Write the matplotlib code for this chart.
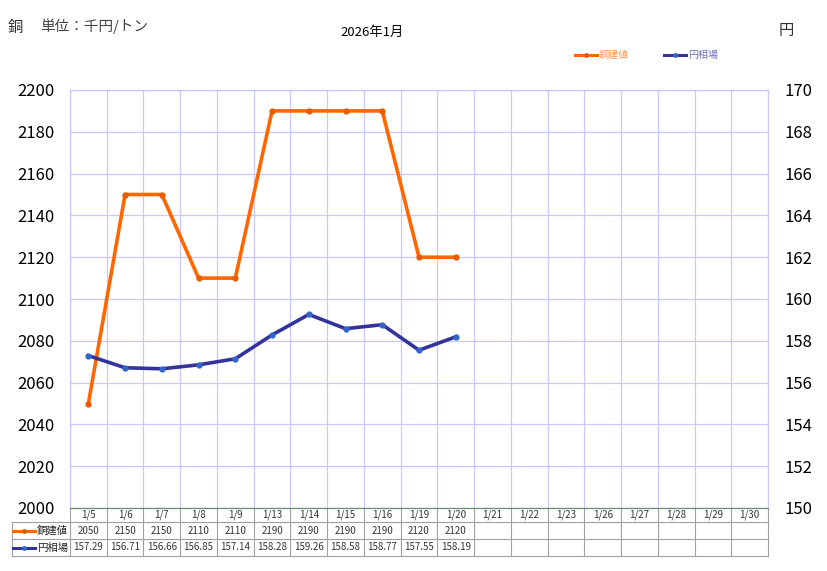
import matplotlib.pyplot as plt

plt.rcParams['font.family'] = ['Noto Sans CJK JP', 'DejaVu Sans']

dates = ['1/5', '1/6', '1/7', '1/8', '1/9', '1/13', '1/14', '1/15', '1/16', '1/19',
         '1/20', '1/21', '1/22', '1/23', '1/26', '1/27', '1/28', '1/29', '1/30']
copper = [2050, 2150, 2150, 2110, 2110, 2190, 2190, 2190, 2190, 2120, 2120]
yen = [157.29, 156.71, 156.66, 156.85, 157.14, 158.28, 159.26, 158.58, 158.77, 157.55, 158.19]

orange = '#FF6600'
navy = '#333399'
grid_c = '#C8C8FF'
tab_c = '#A0A0A0'

W, H = 827, 571
fig = plt.figure(figsize=(W / 100, H / 100), dpi=100)
L, R, T, B = 70, 768, 90, 508
ax = fig.add_axes([L / W, 1 - B / H, (R - L) / W, (B - T) / H])
ax2 = ax.twinx()

n = len(dates)
x = list(range(len(copper)))
ax.set_xlim(-0.5, n - 0.5)
ax.set_ylim(2000, 2200)
ax.set_yticks(range(2000, 2201, 20))
ax2.set_ylim(150, 170)
ax2.set_yticks(range(150, 171, 2))

ax.set_xticks([i - 0.5 for i in range(n + 1)])
ax.set_xticklabels([])
ax.tick_params(axis='x', length=0)
ax.tick_params(axis='y', length=0, labelsize=12, pad=11)
ax2.tick_params(axis='y', length=0, labelsize=12, pad=12)
ax.grid(True, color=grid_c, linewidth=0.9)
ax.set_axisbelow(True)
for a in (ax, ax2):
    for s in a.spines.values():
        s.set_color(grid_c)
    a.spines['bottom'].set_color('#6E8A6E')

ax.plot(x, copper, color=orange, lw=2.6, marker='o', ms=3.5,
        mfc='#E65C00', mec='#E65C00', zorder=3)
ax2.plot(x, yen, color=navy, lw=2.6, marker='o', ms=3.5,
         mfc='#3366CC', mec='#3366CC', zorder=3)
ax2.set_zorder(ax.get_zorder() + 1)
ax2.patch.set_visible(False)

# data table below the plot
tr = ax.get_xaxis_transform()
ph = B - T
rows = [508, 522, 539, 556]
ry = [-(r - B) / ph for r in rows]
unit = (R - L) / n
xleft = -0.5 - (L - 12) / unit
for yy in ry[1:]:
    ax.plot([xleft, n - 0.5], [yy, yy], transform=tr, color=tab_c, lw=0.8, clip_on=False)
ax.plot([xleft, xleft], [ry[1], ry[3]], transform=tr, color=tab_c, lw=0.8, clip_on=False)
for i in range(n + 1):
    ax.plot([i - 0.5, i - 0.5], [ry[0], ry[3]], transform=tr, color=tab_c, lw=0.8, clip_on=False)

mid = [(ry[k] + ry[k + 1]) / 2 for k in range(3)]
for i, d in enumerate(dates):
    ax.text(i, mid[0], d, transform=tr, ha='center', va='center', fontsize=7, color='#333333')
for i, v in enumerate(copper):
    ax.text(i, mid[1], str(v), transform=tr, ha='center', va='center', fontsize=7, color='#333333')
for i, v in enumerate(yen):
    ax.text(i, mid[2], f'{v:.2f}', transform=tr, ha='center', va='center', fontsize=7, color='#333333')

# legend keys inside the table
for k, (name, c, mc) in enumerate([('銅建値', orange, '#E65C00'), ('円相場', navy, '#3366CC')]):
    yy = mid[k + 1]
    ax.plot([xleft + 1 / unit, xleft + 23 / unit], [yy, yy], transform=tr, color=c, lw=2.2, clip_on=False)
    ax.plot([xleft + 12 / unit], [yy], transform=tr, color=mc, marker='o', ms=2.5, clip_on=False)
    ax.text(-0.5 - 2 / unit, yy, name, transform=tr, ha='right', va='center', fontsize=7.5, color='#222222')

# top legend
for lx, name, c, mc in [(575, '銅建値', orange, '#E65C00'), (664, '円相場', navy, '#3366CC')]:
    fig.lines.append(plt.Line2D([lx / W, (lx + 22) / W], [1 - 55 / H] * 2, color=c, lw=2.2,
                                transform=fig.transFigure))
    fig.lines.append(plt.Line2D([(lx + 11) / W], [1 - 55 / H], color=mc, marker='o', ms=2.5,
                                transform=fig.transFigure))
    fig.text((lx + 24) / W, 1 - 55 / H, name, ha='left', va='center', fontsize=7.2, color=c, alpha=0.7)

fig.text(8 / W, 1 - 27 / H, '銅', ha='left', va='center', fontsize=11, color='#333333')
fig.text(40 / W, 1 - 26 / H, '単位：千円/トン', ha='left', va='center', fontsize=10.5, color='#444444')
fig.text(372 / W, 1 - 32 / H, '2026年1月', ha='center', va='center', fontsize=9.5, color='black')
fig.text(786 / W, 1 - 30 / H, '円', ha='center', va='center', fontsize=11, color='#333333')

fig.savefig('out.png', dpi=100)
